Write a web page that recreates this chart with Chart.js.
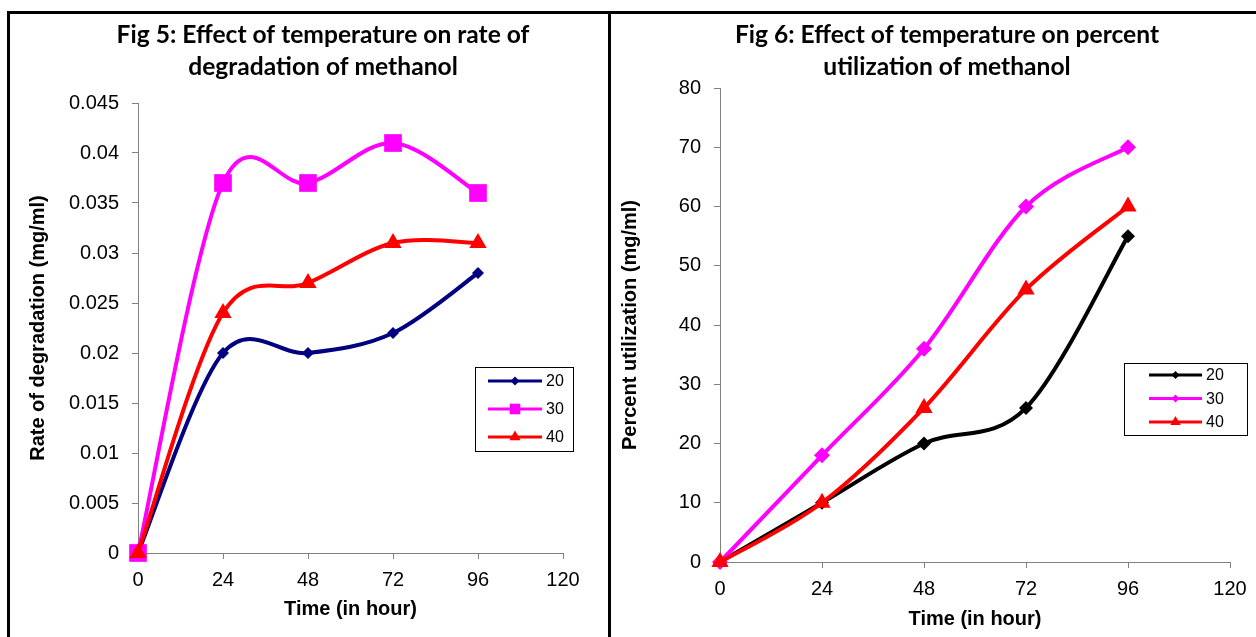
<!DOCTYPE html>
<html>
<head>
<meta charset="utf-8">
<script src="https://cdn.jsdelivr.net/npm/chart.js@4.4.1/dist/chart.umd.min.js"></script>
<style>
  html, body { margin: 0; padding: 0; background: #fff; overflow: hidden; }
  body { width: 1256px; height: 637px; position: relative; }
  .panel { position: absolute; box-sizing: border-box; overflow: hidden; }
  #panelA { left: 7px; top: 11px; width: 604px; height: 640px; border: 3px solid #000; border-bottom: none; }
  #panelB { left: 611px; top: 11px; width: 660px; height: 640px; border-top: 3px solid #000; }
  canvas { position: absolute; left: 0; top: 0; }
</style>
</head>
<body>
<div class="panel" id="panelA"><canvas id="chart1" width="598" height="623"></canvas></div>
<div class="panel" id="panelB"><canvas id="chart2" width="645" height="623"></canvas></div>
<script>
// time points (hours)
var hours = [0, 24, 48, 72, 96];
var seriesNames = ['20', '30', '40'];

// Fig 5: rate of degradation (mg/ml)
var rate20 = [0, 0.020, 0.020, 0.022, 0.028];
var rate30 = [0, 0.037, 0.037, 0.041, 0.036];
var rate40 = [0, 0.024, 0.027, 0.031, 0.031];

// Fig 6: percent utilization
var util20 = [0, 10, 20, 26, 55];
var util30 = [0, 18, 36, 60, 70];
var util40 = [0, 10, 26, 46, 60];

var xTicks = { min: 0, max: 120, step: 24 };
var rateTicks = { min: 0, max: 0.045, step: 0.005 };
var utilTicks = { min: 0, max: 80, step: 10 };

var AXIS_FONT = 'Liberation Sans, Arial, sans-serif';
var TITLE_FONT = 'Lato, Calibri, sans-serif';

function points(values) {
    return values.map(function (v, i) { return { x: hours[i], y: v }; });
}

function fallbackPoint(ctx, style, r, x, y) {
    ctx.beginPath();
    if (style === 'rect') {
        var s = r * Math.SQRT1_2;
        ctx.rect(x - s, y - s, 2 * s, 2 * s);
    } else if (style === 'triangle') {
        ctx.moveTo(x, y - r);
        ctx.lineTo(x + r * 0.866, y + r / 2);
        ctx.lineTo(x - r * 0.866, y + r / 2);
        ctx.closePath();
    } else {
        ctx.moveTo(x - r, y); ctx.lineTo(x, y - r); ctx.lineTo(x + r, y); ctx.lineTo(x, y + r);
        ctx.closePath();
    }
    ctx.fill();
}

// Excel style smoothing: Catmull-Rom control points (1/6 of neighbour span)
var excelSmooth = {
    id: 'excelSmooth',
    beforeDatasetDraw: function (chart, args) {
        var line = args.meta.dataset;
        var pts = args.meta.data;
        if (!line || !pts || pts.length < 2) return;
        if (line.updateControlPoints) line.updateControlPoints(chart.chartArea, 'x');
        for (var i = 0; i < pts.length; i++) {
            var prev = pts[i - 1] || pts[i];
            var next = pts[i + 1] || pts[i];
            var dx = (next.x - prev.x) / 6;
            var dy = (next.y - prev.y) / 6;
            pts[i].cp1x = pts[i].x - dx;
            pts[i].cp1y = pts[i].y - dy;
            pts[i].cp2x = pts[i].x + dx;
            pts[i].cp2y = pts[i].y + dy;
        }
        line._pointsUpdated = true;
        line._path = undefined;
    }
};

// draws the figure title and the boxed legend of each panel
var panelDecor = {
    id: 'panelDecor',
    afterDraw: function (chart, args, opts) {
        var ctx = chart.ctx;
        ctx.save();
        ctx.fillStyle = '#000';
        ctx.font = 'bold ' + opts.titleSize + 'px ' + TITLE_FONT;
        ctx.textAlign = 'center';
        ctx.textBaseline = 'middle';
        opts.title.forEach(function (line, i) {
            ctx.fillText(line, opts.titleX, opts.titleY + i * opts.titleGap);
        });

        var L = opts.legend;
        ctx.lineWidth = 1;
        ctx.strokeStyle = '#000';
        ctx.strokeRect(L.x + 0.5, L.y + 0.5, L.w, L.h);
        ctx.font = L.fontSize + 'px ' + AXIS_FONT;
        ctx.textAlign = 'left';
        chart.data.datasets.forEach(function (ds, i) {
            var y = L.y + L.first + i * L.gap;
            var x0 = L.x + L.lineStart;
            ctx.strokeStyle = ds.borderColor;
            ctx.lineWidth = L.lineWidth;
            ctx.beginPath();
            ctx.moveTo(x0, y);
            ctx.lineTo(x0 + L.lineLen, y);
            ctx.stroke();
            ctx.fillStyle = ds.pointBackgroundColor;
            if (Chart.helpers && Chart.helpers.drawPoint) {
                Chart.helpers.drawPoint(ctx, { pointStyle: ds.pointStyle, radius: L.radius[i], rotation: 0, borderWidth: 0 }, x0 + L.lineLen / 2, y);
            } else {
                fallbackPoint(ctx, ds.pointStyle, L.radius[i], x0 + L.lineLen / 2, y);
            }
            ctx.fillStyle = '#000';
            ctx.fillText(ds.label, x0 + L.lineLen + 4, y + 1);
        });
        ctx.restore();
    }
};

function series(label, values, color, style, radius, order) {
    return {
        label: label,
        data: points(values),
        borderColor: color,
        backgroundColor: color,
        pointBackgroundColor: color,
        pointBorderColor: color,
        pointStyle: style,
        pointRadius: radius,
        pointBorderWidth: 0,
        borderWidth: 4,
        tension: 0.4,
        order: order,
        clip: false
    };
}

function makeChart(id, p) {
    var ctx = document.getElementById(id).getContext('2d');
    return new Chart(ctx, {
        type: 'line',
        data: { datasets: p.datasets },
        options: {
            responsive: false,
            animation: false,
            layout: { padding: { left: 0, right: p.padRight, top: p.padTop, bottom: 0 } },
            plugins: {
                legend: { display: false },
                title: { display: false },
                tooltip: { enabled: false },
                panelDecor: p.decor
            },
            scales: {
                x: {
                    type: 'linear',
                    min: xTicks.min, max: xTicks.max,
                    ticks: { stepSize: xTicks.step, color: '#000', padding: 9, font: { family: AXIS_FONT, size: 20 } },
                    grid: { drawOnChartArea: false, color: '#808080', tickLength: 6 },
                    border: { color: '#808080', width: 1 },
                    title: { display: true, text: 'Time (in hour)', color: '#000',
                             font: { family: AXIS_FONT, size: 20, weight: 'bold' },
                             padding: { top: 0, bottom: p.xTitlePad } },
                    afterFit: function (s) { s.height = p.xHeight; }
                },
                y: {
                    min: p.yTicks.min, max: p.yTicks.max,
                    ticks: { stepSize: p.yTicks.step, color: '#000', padding: 13,
                             font: { family: AXIS_FONT, size: 20 },
                             callback: function (v) { return String(+v.toFixed(3)); } },
                    grid: { drawOnChartArea: false, color: '#808080', tickLength: 6 },
                    border: { color: '#808080', width: 1 },
                    title: { display: true, text: p.yTitle, color: '#000',
                             font: { family: AXIS_FONT, size: 20, weight: 'bold' },
                             padding: { top: p.yTitlePad, bottom: 0 } },
                    afterFit: function (s) { s.width = p.yWidth; }
                }
            }
        },
        plugins: [excelSmooth, panelDecor]
    });
}

makeChart('chart1', {
    datasets: [
        series(seriesNames[0], rate20, '#000080', 'rectRot', 6, 3),
        series(seriesNames[1], rate30, '#FF00FF', 'rect', 12.5, 2),
        series(seriesNames[2], rate40, '#FF0000', 'triangle', 10, 1)
    ],
    yTicks: rateTicks,
    yTitle: 'Rate of degradation (mg/ml)',
    padRight: 45, padTop: 89,
    xHeight: 84, yWidth: 128,
    xTitlePad: 16, yTitlePad: 16,
    decor: {
        title: ['Fig 5: Effect of temperature on rate of', 'degradation of methanol'],
        titleX: 313, titleY: 21, titleGap: 32, titleSize: 24.6,
        legend: { x: 465, y: 353, w: 98, h: 84, first: 14, gap: 28, lineStart: 13, lineLen: 54,
                  lineWidth: 3, radius: [4.5, 7.5, 6.5], fontSize: 16 }
    }
});

makeChart('chart2', {
    datasets: [
        series(seriesNames[0], util20, '#000000', 'rectRot', 7, 3),
        series(seriesNames[1], util30, '#FF00FF', 'rectRot', 8, 2),
        series(seriesNames[2], util40, '#FF0000', 'triangle', 10, 1)
    ],
    yTicks: utilTicks,
    yTitle: 'Percent utilization (mg/ml)',
    padRight: 26, padTop: 74,
    xHeight: 75, yWidth: 109,
    xTitlePad: 6, yTitlePad: 7,
    decor: {
        title: ['Fig 6: Effect of temperature on percent', 'utilization of methanol'],
        titleX: 336, titleY: 21, titleGap: 32, titleSize: 24.6,
        legend: { x: 513, y: 349, w: 123, h: 72, first: 12, gap: 23.5, lineStart: 25, lineLen: 53,
                  lineWidth: 3, radius: [4, 4, 6], fontSize: 16 }
    }
});
</script>
</body>
</html>
